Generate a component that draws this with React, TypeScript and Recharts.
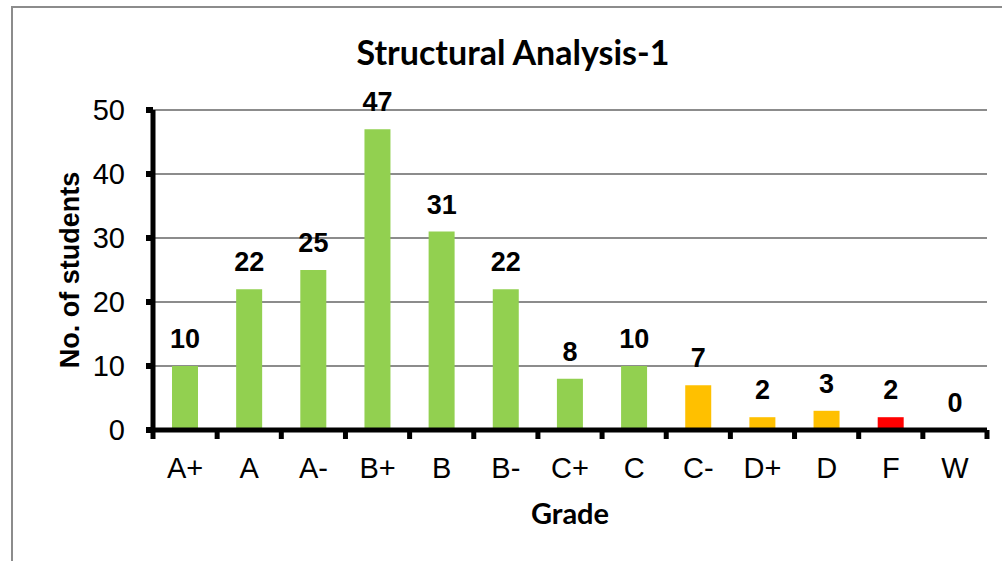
import React from 'react';
import { ComposedChart, Bar, Line, XAxis, YAxis, CartesianGrid, Cell, LabelList } from 'recharts';

// grades on the x axis and number of students per grade
const grades = ['A+', 'A', 'A-', 'B+', 'B', 'B-', 'C+', 'C', 'C-', 'D+', 'D', 'F', 'W'];
const students = [10, 22, 25, 47, 31, 22, 8, 10, 7, 2, 3, 2, 0];
// grade bands used for bar colour
const bands = ['pass', 'pass', 'pass', 'pass', 'pass', 'pass', 'pass', 'pass', 'low', 'low', 'low', 'fail', 'fail'];
const yTicks = [0, 10, 20, 30, 40, 50];

const bandColor: Record<string, string> = {
  pass: '#92D050',
  low: '#FFC000',
  fail: '#FF0000',
};

const data = grades.map((g, i) => ({ grade: g, value: students[i], band: bands[i] }));

const W = 1002;
const H = 561;
const M = { top: 110, right: 15, left: 0, bottom: 0 };
const Y_AXIS_W = 153;
const X_AXIS_H = H - 430;
const plotW = W - M.right - Y_AXIS_W;
const step = plotW / grades.length;

const sans = '"Liberation Sans", Arial, sans-serif';
const calibriLike = 'Lato, "Open Sans", sans-serif';

const GradeTick = (props: any) => {
  const { x, y, payload, index } = props;
  return (
    <g>
      <rect x={x - step / 2 - 2.5} y={y} width={5} height={9} fill="#000" />
      {index === grades.length - 1 && (
        <rect x={x + step / 2 - 2.5} y={y} width={5} height={9} fill="#000" />
      )}
      <text x={x} y={y + 48} textAnchor="middle" fontFamily={sans} fontSize={29} fill="#000">
        {payload.value}
      </text>
    </g>
  );
};

export default function App() {
  return (
    <div style={{ position: 'absolute', left: 0, top: 0, width: W, height: H, overflow: 'hidden', background: '#fff' }}>
      {/* chart frame, only top/left edges show in the picture */}
      <div
        style={{
          position: 'absolute',
          left: 11,
          top: 6,
          width: 1100,
          height: 700,
          borderTop: '2px solid #8c8c8c',
          borderLeft: '2px solid #8c8c8c',
        }}
      />
      <div style={{ position: 'absolute', left: 0, top: 0 }}>
        <ComposedChart width={W} height={H} data={data} margin={M} barSize={26}>
          <CartesianGrid vertical={false} stroke="#8c8c8c" strokeWidth={2} />
          <XAxis
            dataKey="grade"
            height={X_AXIS_H}
            tickLine={false}
            tickSize={0}
            tickMargin={0}
            axisLine={{ stroke: '#000', strokeWidth: 5 }}
            tick={<GradeTick />}
            interval={0}
          />
          <YAxis
            width={Y_AXIS_W}
            domain={[0, 50]}
            ticks={yTicks}
            interval={0}
            axisLine={{ stroke: '#000', strokeWidth: 5 }}
            tickLine={{ stroke: '#000', strokeWidth: 6 }}
            tickSize={7}
            tickMargin={21}
            tick={{ fontFamily: sans, fontSize: 29, fill: '#000' }}
          />
          <Bar dataKey="value" isAnimationActive={false}>
            {data.map((d, i) => (
              <Cell key={`c-${i}`} fill={bandColor[d.band]} />
            ))}
          </Bar>
          {/* invisible line carries the value labels so the zero bar gets one too */}
          <Line
            dataKey="value"
            stroke="none"
            dot={false}
            activeDot={false}
            isAnimationActive={false}
            legendType="none"
          >
            <LabelList
              dataKey="value"
              position="top"
              offset={18}
              style={{ fontFamily: sans, fontSize: 27, fontWeight: 'bold', fill: '#000' }}
            />
          </Line>
        </ComposedChart>
      </div>
      <svg width={W} height={H} style={{ position: 'absolute', left: 0, top: 0, pointerEvents: 'none' }}>
        <text x={513} y={65} textAnchor="middle" fontFamily={calibriLike} fontWeight="bold" fontSize={34} fill="#000">
          Structural Analysis-1
        </text>
        <text x={570} y={524} textAnchor="middle" fontFamily={calibriLike} fontWeight="bold" fontSize={29} fill="#000">
          Grade
        </text>
        <text
          x={0}
          y={0}
          transform="translate(79,270) rotate(-90)"
          textAnchor="middle"
          fontFamily={sans}
          fontWeight="bold"
          fontSize={27}
          fill="#000"
        >
          No. of students
        </text>
      </svg>
    </div>
  );
}
